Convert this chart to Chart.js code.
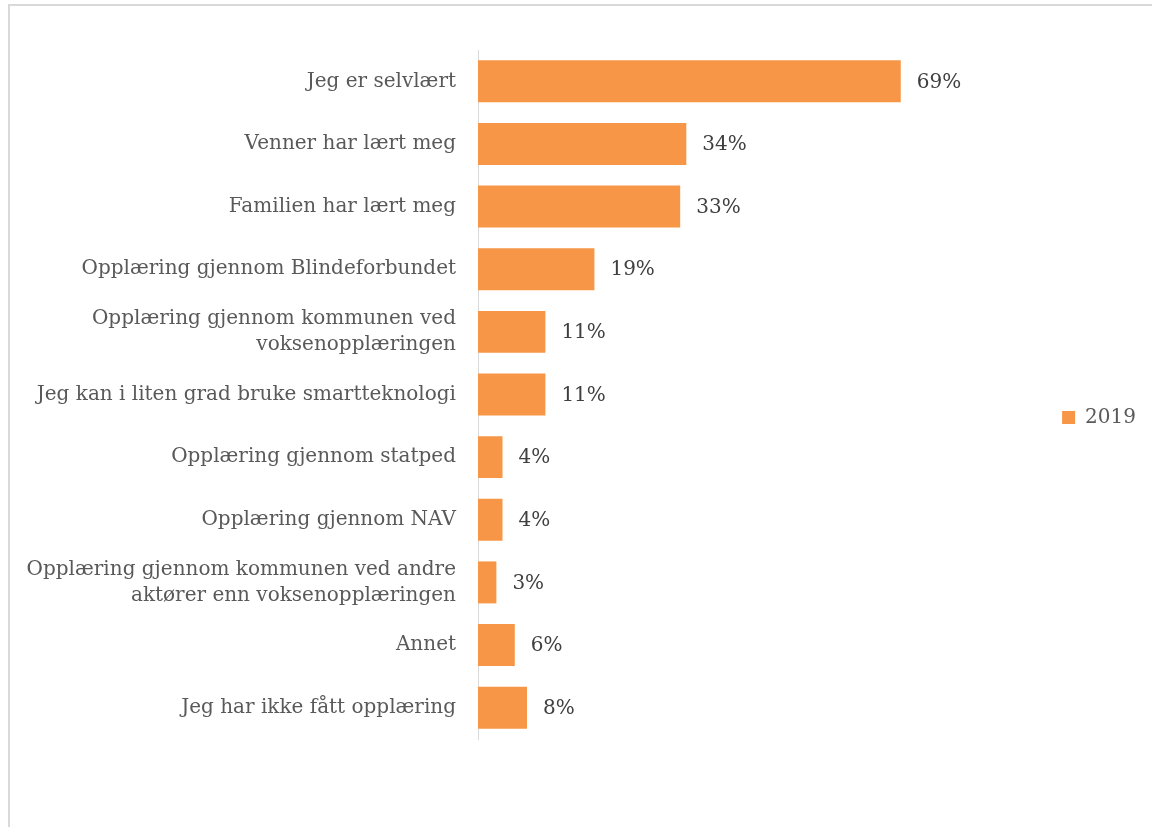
<!DOCTYPE html>
<html lang="no">
<head>
    <meta charset="UTF-8">
    <title>Opplæring</title>
    <script src="https://cdn.jsdelivr.net/npm/chart.js"></script>
    <style>
        html, body {
            margin: 0;
            padding: 0;
            background: #ffffff;
            overflow: hidden;
        }
        .frame {
            position: absolute;
            left: 8px;
            top: 4px;
            width: 1200px;
            height: 900px;
            border: 2px solid #d9d9d9;
        }
        .chart-box {
            position: absolute;
            left: 0;
            top: 0;
            width: 1152px;
            height: 827px;
        }
    </style>
</head>
<body>

<div class="frame"></div>
<div class="chart-box">
    <canvas id="learnChart"></canvas>
</div>

<script>
    // data
    const categories = [
        'Jeg er selvlært',
        'Venner har lært meg',
        'Familien har lært meg',
        'Opplæring gjennom Blindeforbundet',
        ['Opplæring gjennom kommunen ved', 'voksenopplæringen'],
        'Jeg kan i liten grad bruke smartteknologi',
        'Opplæring gjennom statped',
        'Opplæring gjennom NAV',
        ['Opplæring gjennom kommunen ved andre', 'aktører enn voksenopplæringen'],
        'Annet',
        'Jeg har ikke fått opplæring'
    ];
    const values2019 = [69, 34, 33, 19, 11, 11, 4, 4, 3, 6, 8];
    const seriesName = '2019';
    const xMax = 93.7;

    const font = 'DejaVu Serif';

    // value labels at the end of each bar
    const barLabels = {
        id: 'barLabels',
        afterDatasetsDraw(chart) {
            const ctx = chart.ctx;
            const meta = chart.getDatasetMeta(0);
            ctx.save();
            ctx.font = '20px "' + font + '"';
            ctx.fillStyle = '#404040';
            ctx.textAlign = 'left';
            ctx.textBaseline = 'middle';
            meta.data.forEach((bar, i) => {
                ctx.fillText(values2019[i] + '%', bar.x + 16, bar.y + 1);
            });
            ctx.restore();
        }
    };

    const ctx = document.getElementById('learnChart').getContext('2d');
    const learnChart = new Chart(ctx, {
        type: 'bar',
        data: {
            labels: categories,
            datasets: [{
                label: seriesName,
                data: values2019,
                backgroundColor: '#f79646',
                barPercentage: 0.67,
                categoryPercentage: 1.0
            }]
        },
        options: {
            indexAxis: 'y',
            responsive: true,
            maintainAspectRatio: false,
            animation: false,
            layout: {
                padding: { top: 8, right: 6, bottom: 0, left: 0 }
            },
            scales: {
                x: {
                    min: 0,
                    max: xMax,
                    position: 'bottom',
                    grid: { display: false, drawTicks: false },
                    border: { display: false },
                    ticks: { display: false },
                    afterFit(s) { s.height = 88; }
                },
                xTop: {
                    type: 'linear',
                    position: 'top',
                    grid: { display: false, drawTicks: false },
                    border: { display: false },
                    ticks: { display: false },
                    afterFit(s) { s.height = 42; }
                },
                y: {
                    grid: { display: false, drawTicks: false },
                    border: { display: true, color: '#d9d9d9', width: 1 },
                    ticks: {
                        color: '#595959',
                        padding: 22,
                        font: { family: font, size: 20, lineHeight: 1.3 }
                    },
                    afterFit(s) { s.width = 478; }
                }
            },
            plugins: {
                legend: {
                    position: 'right',
                    labels: {
                        boxWidth: 13,
                        boxHeight: 13,
                        color: '#595959',
                        font: { family: font, size: 20 }
                    }
                },
                tooltip: { enabled: false }
            }
        },
        plugins: [barLabels]
    });
</script>

</body>
</html>
